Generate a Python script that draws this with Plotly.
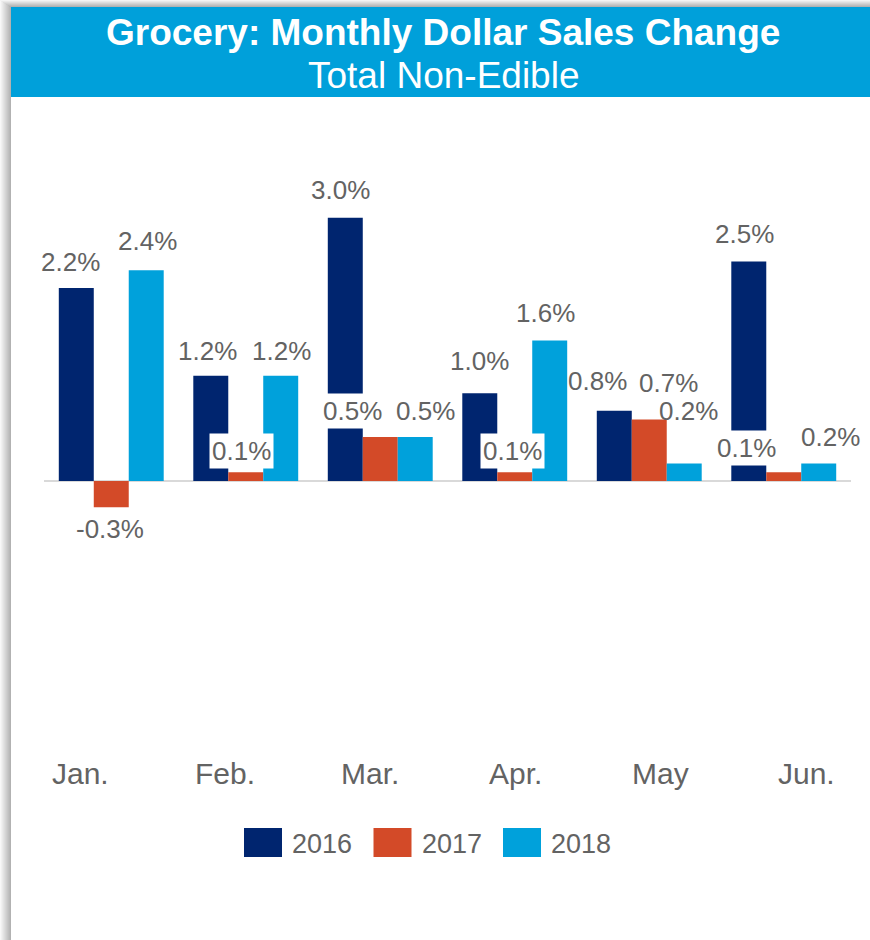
import plotly.graph_objects as go

# ---- data -------------------------------------------------------------
months = ["Jan.", "Feb.", "Mar.", "Apr.", "May", "Jun."]
years = ["2016", "2017", "2018"]
sales_2016 = [2.2, 1.2, 3.0, 1.0, 0.8, 2.5]
sales_2017 = [-0.3, 0.1, 0.5, 0.1, 0.7, 0.1]
sales_2018 = [2.4, 1.2, 0.5, 1.6, 0.2, 0.2]
series = [sales_2016, sales_2017, sales_2018]

# ---- styling ------------------------------------------------------------
colors = ["#00256F", "#D34A28", "#00A1DB"]
banner_color = "#00A0DA"
text_gray = "#636363"
FONT = "Liberation Sans, Arial, sans-serif"

# label nudges (dx px right, dy px above bar end) per series / month
label_nudge = [
    [(-6, 26), (-3, 25), (-5, 28), (0, 32), (-17, 30), (-4, 28)],
    [(-1, -22), (-4, 21), (-28, 26), (-2, 21), (19, 37), (-37, 24)],
    [(1, 29), (1, 25), (10, 26), (-4, 28), (4, 52), (12, 26)],
]

W, H = 870, 940
ML, MR, MT, MB = 44, 19, 130, 190
PW, PH = W - ML - MR, H - MT - MB
BARGAP = 0.22
Y_RANGE = [-3.067, 4.0]


def fx(px):
    return (px - ML) / PW


def fy(py):
    return (H - MB - py) / PH


fig = go.Figure()
for name, vals, col in zip(years, series, colors):
    fig.add_trace(go.Bar(
        x=months, y=vals, name=name,
        marker=dict(color=col, line=dict(width=0)),
        showlegend=False, hoverinfo="x+y+name",
    ))

shapes = []
annotations = []

# soft frame shadow on the left and top edges
for i in range(11):
    g = int(255 - (255 - 178) * (i + 1) / 11)
    shapes.append(dict(type="rect", xref="paper", yref="paper",
                       x0=fx(i), x1=fx(i + 1), y0=fy(H), y1=fy(i * 7 / 11),
                       fillcolor=f"rgb({g},{g},{g})", line=dict(width=0), layer="below"))
for j in range(7):
    g = int(255 - (255 - 178) * (j + 1) / 7)
    shapes.append(dict(type="rect", xref="paper", yref="paper",
                       x0=fx(j * 11 / 7), x1=fx(W), y0=fy(j + 1), y1=fy(j),
                       fillcolor=f"rgb({g},{g},{g})", line=dict(width=0), layer="below"))

# title banner
shapes.append(dict(type="rect", xref="paper", yref="paper",
                   x0=fx(11), x1=fx(W), y0=fy(97), y1=fy(7),
                   fillcolor=banner_color, line=dict(width=0), layer="below"))
annotations.append(dict(text="<b>Grocery: Monthly Dollar Sales Change</b>",
                        xref="paper", yref="paper", x=fx(443), y=fy(32),
                        xanchor="center", yanchor="middle", showarrow=False,
                        font=dict(family=FONT, size=37, color="white")))
annotations.append(dict(text="Total Non-Edible",
                        xref="paper", yref="paper", x=fx(443), y=fy(76),
                        xanchor="center", yanchor="middle", showarrow=False,
                        font=dict(family=FONT, size=37, color="white")))

# value labels
cat_w = PW / len(months)
bar_w = cat_w * (1 - BARGAP) / len(years)
for k, vals in enumerate(series):
    for i, v in enumerate(vals):
        dx, dy = label_nudge[k][i]
        ann = dict(text=f"{v:.1f}%", x=months[i], y=v, xref="x", yref="y",
                   xshift=(k - 1) * bar_w + dx, yshift=dy,
                   xanchor="center", yanchor="middle", showarrow=False,
                   font=dict(family=FONT, size=26, color=text_gray))
        if k == 1:
            ann.update(bgcolor="white", borderpad=2)
        annotations.append(ann)

# month labels along the bottom
for i, m in enumerate(months):
    annotations.append(dict(text=m, xref="paper", yref="paper",
                            x=fx(80 + 145.2 * i), y=fy(773),
                            xanchor="center", yanchor="middle", showarrow=False,
                            font=dict(family=FONT, size=30, color=text_gray)))

# legend swatches
for k, (name, col) in enumerate(zip(years, colors)):
    x0 = 244 + 129.5 * k
    shapes.append(dict(type="rect", xref="paper", yref="paper",
                       x0=fx(x0), x1=fx(x0 + 38), y0=fy(857), y1=fy(828),
                       fillcolor=col, line=dict(width=0)))
    annotations.append(dict(text=name, xref="paper", yref="paper",
                            x=fx(x0 + 46), y=fy(844),
                            xanchor="left", yanchor="middle", showarrow=False,
                            font=dict(family=FONT, size=27, color=text_gray)))

fig.update_layout(
    width=W, height=H, autosize=False,
    margin=dict(l=ML, r=MR, t=MT, b=MB, pad=0),
    paper_bgcolor="white", plot_bgcolor="white",
    barmode="group", bargap=BARGAP, bargroupgap=0,
    showlegend=False,
    xaxis=dict(type="category", categoryorder="array", categoryarray=months,
               range=[-0.5, len(months) - 0.5], showticklabels=False,
               showgrid=False, zeroline=False, showline=False, ticks=""),
    yaxis=dict(range=Y_RANGE, showticklabels=False, showgrid=False,
               zeroline=True, zerolinecolor="#D9D9D9", zerolinewidth=2,
               showline=False, ticks=""),
    shapes=shapes,
    annotations=annotations,
    font=dict(family=FONT, color=text_gray),
)

fig.write_html("out.html")
